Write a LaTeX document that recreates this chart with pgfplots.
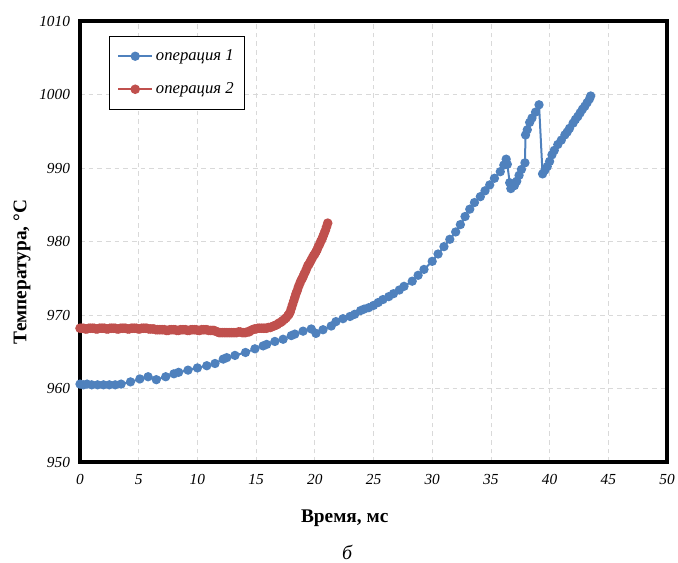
\documentclass[border=0pt]{standalone}
\usepackage{fontspec}
\setmainfont{Liberation Serif}
\usepackage{pgfplots}
\pgfplotsset{compat=1.18}

\definecolor{opblue}{HTML}{4F81BD}
\definecolor{opred}{HTML}{C0504D}

\begin{document}
\begin{tikzpicture}
\useasboundingbox (-60pt,-75.75pt) rectangle (448.5pt,346.5pt);
\begin{axis}[
  at={(0,0)}, anchor=south west,
  scale only axis, width=440.25pt, height=330.75pt,
  xmin=0, xmax=50, ymin=950, ymax=1010,
  xtick={0,5,...,50}, ytick={950,960,...,1010},
  major tick length=0pt,
  axis line style={line width=2.6pt},
  grid=major,
  major grid style={dash pattern=on 3.5pt off 3pt, color=black!15, line width=0.6pt},
  /pgf/number format/assume math mode=true,
  /pgf/number format/1000 sep={},
  ticklabel style={font=\itshape\fontsize{11.5}{13}\selectfont},
  yticklabel style={xshift=-4pt},
  xticklabel style={yshift=-6pt},
  xlabel={Время, мс},
  ylabel={Температура, °С},
  label style={font=\bfseries\fontsize{14.5}{16}\selectfont},
  xlabel style={at={(rel axis cs:0.451,-0.127)}, anchor=center},
  ylabel style={at={(rel axis cs:-0.0988,0.431)}, anchor=center},
  clip=false,
  legend style={at={(rel axis cs:0.049,0.966)}, anchor=north west,
    draw=black, line width=0.6pt, inner xsep=6pt, inner ysep=8pt,
    row sep=11pt, font=\itshape\fontsize{12.5}{14}\selectfont,
    legend cell align=left},
  legend image code/.code={\draw[#1, mark repeat=2, mark phase=2] plot coordinates {(0cm,0cm)(0.45cm,0cm)(0.9cm,0cm)};},
]
\addplot[color=opblue, line width=1.5pt, mark=*, mark size=2.7pt, mark options={solid, fill=opblue, draw=opblue}] coordinates {
(0,960.6)(0.3,960.5)(0.6,960.6)(1,960.5)(1.5,960.5)(2,960.5)(2.5,960.5)(3,960.5)(3.5,960.6)
(4.3,960.9)(5.1,961.3)(5.8,961.6)(6.5,961.2)(7.3,961.6)(8.0,962.0)(8.4,962.2)(9.2,962.5)
(10.0,962.8)(10.8,963.1)(11.5,963.4)(12.2,964.0)(12.5,964.2)(13.2,964.5)(14.1,964.9)
(14.9,965.4)(15.6,965.8)(15.9,966.0)(16.6,966.4)(17.3,966.7)(18.0,967.2)(18.3,967.4)
(19.0,967.8)(19.7,968.1)(20.1,967.5)(20.7,968.0)(21.4,968.5)(21.8,969.1)(22.4,969.5)
(23.0,969.8)(23.4,970.1)(23.9,970.6)(24.2,970.8)(24.6,971.0)(25.0,971.3)(25.4,971.7)
(25.8,972.1)(26.3,972.5)(26.7,972.9)(27.2,973.4)(27.6,973.9)(28.3,974.6)(28.8,975.4)
(29.3,976.2)(30.0,977.3)(30.5,978.3)(31.0,979.3)(31.5,980.3)(32.0,981.3)(32.4,982.3)
(32.8,983.4)(33.2,984.4)(33.6,985.3)(34.1,986.1)(34.5,986.9)(34.9,987.7)(35.3,988.6)
(35.8,989.5)(36.1,990.4)(36.3,991.2)(36.4,990.5)(36.6,988.0)(36.7,987.2)(37.0,987.6)
(37.2,988.2)(37.4,989.0)(37.6,989.8)(37.9,990.7)(37.95,994.5)(38.1,995.2)(38.3,996.2)
(38.5,996.8)(38.8,997.6)(39.1,998.6)(39.4,989.2)(39.6,989.7)(39.8,990.2)(40.0,990.9)
(40.2,991.8)(40.4,992.4)(40.7,993.2)(41.0,993.8)(41.3,994.5)(41.5,994.9)(41.7,995.4)
(42.0,996.1)(42.2,996.6)(42.4,997.0)(42.6,997.5)(42.8,998.0)(43.0,998.4)(43.2,998.9)
(43.4,999.4)(43.5,999.8)
};
\addlegendentry{операция 1}
\addplot[color=opred, line width=1.5pt, mark=*, mark size=2.8pt, mark options={solid, fill=opred, draw=opred}] coordinates {
(0,968.2)(0.15,968.2)(0.3,968.2)(0.45,968.1)(0.6,968.1)(0.75,968.2)(0.9,968.2)(1.05,968.2)
(1.2,968.2)(1.35,968.1)(1.5,968.1)(1.65,968.2)(1.8,968.2)(1.95,968.2)(2.1,968.2)(2.25,968.1)
(2.4,968.1)(2.55,968.2)(2.7,968.2)(2.85,968.2)(3.0,968.2)(3.15,968.1)(3.3,968.1)(3.45,968.2)
(3.6,968.2)(3.75,968.2)(3.9,968.2)(4.05,968.1)(4.2,968.1)(4.35,968.2)(4.5,968.2)(4.65,968.2)
(4.8,968.2)(4.95,968.1)(5.1,968.1)(5.25,968.2)(5.4,968.2)(5.55,968.2)(5.7,968.2)(5.85,968.1)
(6.0,968.1)(6.15,968.1)(6.3,968.1)(6.45,968.0)(6.6,968.0)(6.75,968.0)(6.9,968.0)(7.05,968.0)
(7.2,968.0)(7.35,967.9)(7.5,967.9)(7.65,968.0)(7.8,968.0)(7.95,968.0)(8.1,968.0)(8.25,967.9)
(8.4,967.9)(8.55,968.0)(8.7,968.0)(8.85,968.0)(9.0,968.0)(9.15,967.9)(9.3,967.9)(9.45,968.0)
(9.6,968.0)(9.75,968.0)(9.9,968.0)(10.05,967.9)(10.2,967.9)(10.35,968.0)(10.5,968.0)(10.65,968.0)
(10.8,968.0)(10.95,967.9)(11.1,967.9)(11.25,967.9)(11.4,967.9)(11.55,967.8)(11.7,967.7)(11.85,967.6)
(12.0,967.6)(12.15,967.6)(12.3,967.6)(12.45,967.6)(12.6,967.6)(12.75,967.6)(12.9,967.6)(13.05,967.6)
(13.2,967.6)(13.35,967.6)(13.5,967.7)(13.65,967.7)(13.8,967.6)(13.95,967.6)(14.1,967.6)(14.25,967.7)
(14.4,967.7)(14.55,967.9)(14.7,968.0)(14.85,968.1)(15.0,968.1)(15.15,968.2)(15.3,968.2)(15.45,968.2)
(15.6,968.2)(15.75,968.2)(15.9,968.2)(16.05,968.3)(16.2,968.3)(16.35,968.4)(16.5,968.5)(16.65,968.6)
(16.8,968.7)(16.95,968.9)(17.1,969.0)(17.25,969.2)(17.4,969.4)(17.55,969.6)(17.7,969.9)(17.8,970.1)
(17.9,970.4)(18.0,970.9)(18.1,971.4)(18.2,971.9)(18.3,972.4)(18.4,972.9)(18.5,973.3)(18.6,973.8)
(18.7,974.2)(18.8,974.6)(18.9,974.9)(19.0,975.2)(19.1,975.6)(19.2,975.9)(19.3,976.3)(19.4,976.7)
(19.5,976.9)(19.6,977.2)(19.7,977.5)(19.8,977.8)(19.9,978.1)(20.0,978.3)(20.1,978.6)(20.2,978.9)
(20.3,979.3)(20.4,979.6)(20.5,980.0)(20.6,980.3)(20.7,980.7)(20.8,981.1)(20.9,981.5)(21.0,982.0)(21.1,982.5)
};
\addlegendentry{операция 2}
\node[font=\itshape\fontsize{15}{17}\selectfont] at (rel axis cs:0.455,-0.204) {б};
\end{axis}
\end{tikzpicture}
\end{document}
